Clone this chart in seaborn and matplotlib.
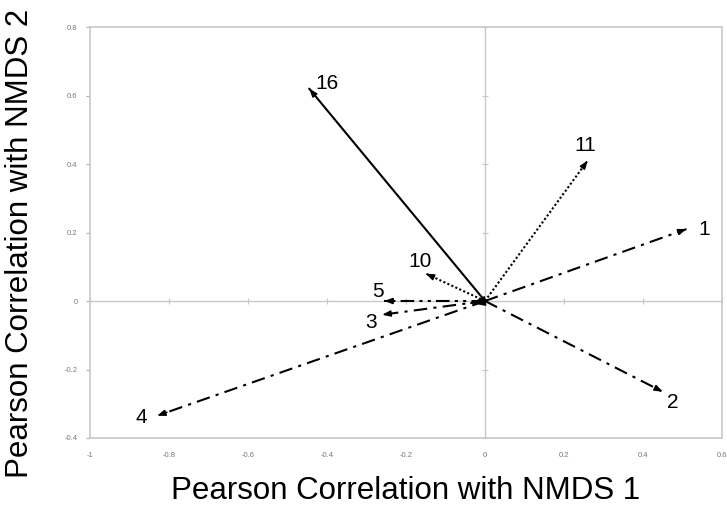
import matplotlib
matplotlib.use("Agg")
import matplotlib.pyplot as plt
import seaborn as sns
import pandas as pd

# Vector endpoints: correlation of each variable with the two NMDS axes
variables = ["16", "11", "1", "2", "4", "3", "5", "10", ""]
nmds1 = [-0.445, 0.26, 0.51, 0.45, -0.83, -0.26, -0.255, -0.15, -0.035]
nmds2 = [0.62, 0.41, 0.21, -0.265, -0.335, -0.04, 0.0, 0.08, -0.006]
line_styles = ["solid", "dotted", "dashdot", "dashdot", "dashdot", "dashdot",
               "dashdotdot", "dotted", "solid"]

# Label placement offsets (in data units) relative to each arrow tip
label_dx = [0.045, -0.005, 0.045, 0.025, -0.04, -0.028, -0.016, -0.014, 0.0]
label_dy = [0.015, 0.045, 0.0, -0.03, -0.005, -0.022, 0.028, 0.035, 0.0]

x_ticks = [-1, -0.8, -0.6, -0.4, -0.2, 0, 0.2, 0.4, 0.6]
y_ticks = [-0.4, -0.2, 0, 0.2, 0.4, 0.6, 0.8]

sns.set_theme(style="white")
plt.rcParams["font.family"] = ["Liberation Sans", "DejaVu Sans"]

fig = plt.figure(figsize=(7.27, 5.11), dpi=100)
ax = fig.add_axes([90 / 727, 1 - 438 / 511, (722 - 90) / 727, (438 - 27) / 511])

dash_map = {
    "solid": "-",
    "dotted": (0, (1, 1.1)),
    "dashdot": (0, (6.5, 3, 1.5, 3)),
    "dashdotdot": (0, (6.5, 2.5, 1.5, 2.5, 1.5, 2.5)),
}

# Zero lines acting as the crossing axes, with their small tick marks
ax.axhline(0, color="#c8c8c8", lw=1.0, zorder=0)
ax.axvline(0, color="#c8c8c8", lw=1.0, zorder=0)
ax.plot(x_ticks, [0] * len(x_ticks), ls="none", marker="|", ms=5, mew=0.8,
        color="#c8c8c8", zorder=0)
ax.plot([0] * len(y_ticks), y_ticks, ls="none", marker="_", ms=5, mew=0.8,
        color="#c8c8c8", zorder=0)

for name, x, y, ls, dx, dy in zip(variables, nmds1, nmds2, line_styles, label_dx, label_dy):
    seg = pd.DataFrame({"x": [0.0, x], "y": [0.0, y]})
    sns.lineplot(data=seg, x="x", y="y", sort=False, ax=ax, color="black",
                 lw=1.5, linestyle=dash_map[ls], zorder=3)
    head = "-|>,head_length=0.4,head_width=0.15"
    if not name:
        head = "-|>,head_length=0.7,head_width=0.25"
    ax.annotate("", xy=(x, y), xytext=(x * 0.97, y * 0.97),
                arrowprops=dict(arrowstyle=head, color="black", lw=1.1,
                                shrinkA=0, shrinkB=0),
                zorder=4)
    if name:
        ax.text(x + dx, y + dy, name, fontsize=15, ha="center", va="center", color="black")

ax.set_xlim(-1, 0.6)
ax.set_ylim(-0.4, 0.8)
ax.set_xticks(x_ticks)
ax.set_yticks(y_ticks)
ax.set_xticklabels([f"{t:g}" for t in x_ticks])
ax.set_yticklabels([f"{t:g}" for t in y_ticks])
ax.tick_params(axis="both", labelsize=5.5, labelcolor="#777777", colors="#b0b0b0",
               length=3, width=0.8, direction="out", bottom=False, left=True, pad=6)
ax.tick_params(axis="x", pad=7)

for spine in ax.spines.values():
    spine.set_color("#c8c8c8")
    spine.set_linewidth(1.2)

ax.set_xlabel("Pearson Correlation with NMDS 1", fontsize=22.5, color="black", labelpad=12)
ax.set_ylabel("Pearson Correlation with NMDS 2", fontsize=22.5, color="black")
ax.yaxis.set_label_coords(-0.087, 0.474)

fig.savefig("out.png", dpi=100)
